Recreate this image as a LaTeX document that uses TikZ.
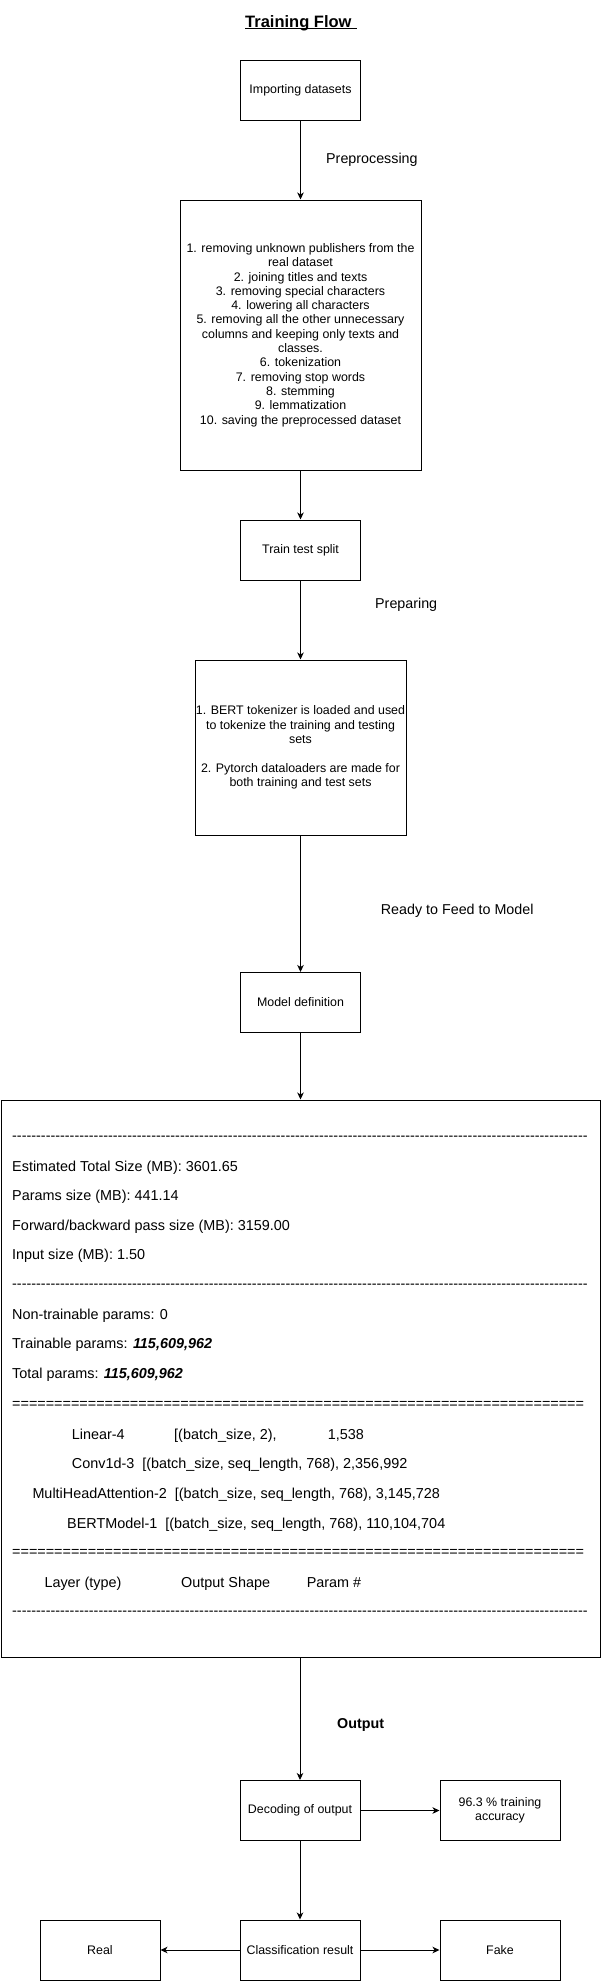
\documentclass[tikz,border=0pt]{standalone}
\usepackage{fontspec}
\setmainfont{Liberation Sans}
\usetikzlibrary{arrows.meta}
\newcommand\dashrow[1]{\foreach \k in {1,...,#1}{\hbox{-}}}
\newcommand\eqrow[1]{\foreach \k in {1,...,#1}{\hbox{=}}}
\begin{document}
\begin{tikzpicture}[x=1pt,y=-1pt,
  box/.style={draw,line width=1pt,minimum width=120pt,minimum height=60pt,inner sep=0pt,align=center,font=\fontsize{12.4}{14.3}\selectfont},
  lbl/.style={anchor=west,inner sep=0pt,text height=10.5pt,text depth=3pt,font=\fontsize{14.3}{17}\selectfont},
  row/.style={anchor=west,inner sep=0pt,text height=10.5pt,text depth=3pt,font=\fontsize{14.4}{17}\selectfont},
  arr/.style={-{Stealth[length=7pt,width=6.5pt,inset=2pt]},line width=1pt}]
\useasboundingbox (0,0) rectangle (601,1981);

% title
\node[anchor=base west,inner sep=0pt,font=\fontsize{16.5}{20}\selectfont\bfseries] (title) at (245,27) {Training Flow};
\draw[line width=1.2pt] ([yshift=-1.8pt]title.base west) -- ++(112,0);

% boxes
\node[box] (imp) at (300.5,90) {Importing datasets};
\node[box,minimum width=241pt,minimum height=270pt] (pre) at (300.5,335) {1. removing unknown publishers from the\\real dataset\\2. joining titles and texts\\3. removing special characters\\4. lowering all characters\\5. removing all the other unnecessary\\columns and keeping only texts and\\classes.\\6. tokenization\\7. removing stop words\\8. stemming\\9. lemmatization\\10. saving the preprocessed dataset};
\node[box] (tts) at (300.5,550) {Train test split};
\node[box,minimum width=211pt,minimum height=175pt] (prep) at (300.5,747.5) {1. BERT tokenizer is loaded and used\\to tokenize the training and testing\\sets\\[14.3pt]2. Pytorch dataloaders are made for\\both training and test sets};
\node[box] (md) at (300.5,1002.5) {Model definition};
\node[draw,line width=1pt,minimum width=599pt,minimum height=557pt,inner sep=0pt] (big) at (300.5,1378.5) {};
\node[box] (dec) at (300,1810.5) {Decoding of output};
\node[box] (acc) at (500,1810.5) {96.3 \% training\\accuracy};
\node[box] (cls) at (300,1950) {Classification result};
\node[box] (real) at (100,1950) {Real};
\node[box] (fake) at (500,1950) {Fake};

% labels
\node[lbl] (lpre) at (326,160) {Preprocessing};
\node[lbl] (lprep) at (375,605) {Preparing};
\node[lbl] (lready) at (380.7,911) {Ready to Feed to Model};
\node[lbl,font=\fontsize{14.3}{17}\selectfont\bfseries] (lout) at (337,1725) {Output};

% summary rows
\node[row] (r1) at (12,1137) {\dashrow{120}};
\node[row] (r2) at (12,1167.5) {Estimated Total Size (MB): 3601.65};
\node[row] (r3) at (12,1196.5) {Params size (MB): 441.14};
\node[row] (r4) at (12,1226.5) {Forward/backward pass size (MB): 3159.00};
\node[row] (r5) at (12,1255.5) {Input size (MB): 1.50};
\node[row] (r6) at (12,1285) {\dashrow{120}};
\node[row] (r7) at (12,1315.5) {Non-trainable params: 0};
\node[row] (r8) at (12,1344.5) {Trainable params: \textbf{\textit{115,609,962}}};
\node[row] (r9) at (12,1374.5) {Total params: \textbf{\textit{115,609,962}}};
\node[row] (r10) at (12,1404.5) {\eqrow{68}};
\node[row] (r11a) at (71.7,1435.5) {Linear-4};
\node[row] (r11b) at (174,1435.5) {[(batch\_size, 2),};
\node[row] (r11c) at (327.7,1435.5) {1,538};
\node[row] (r12) at (71.7,1464.5) {Conv1d-3\ \ [(batch\_size, seq\_length, 768), 2,356,992};
\node[row] (r13) at (32.3,1494.5) {MultiHeadAttention-2\ \ [(batch\_size, seq\_length, 768), 3,145,728};
\node[row] (r14) at (67,1524.5) {BERTModel-1\ \ [(batch\_size, seq\_length, 768), 110,104,704};
\node[row] (r15) at (12,1552.5) {\eqrow{68}};
\node[row] (r16a) at (44.3,1583.5) {Layer (type)};
\node[row] (r16b) at (181,1583.5) {Output Shape};
\node[row] (r16c) at (306.6,1583.5) {Param \#};
\node[row] (r17) at (12,1612) {\dashrow{120}};

% connectors
\draw[arr] (imp) -- (pre);
\draw[arr] (pre) -- (tts);
\draw[arr] (tts) -- (prep);
\draw[arr] (prep) -- (md);
\draw[arr] (md) -- (md |- big.north);
\draw[arr] (dec |- big.south) -- (dec);
\draw[arr] (dec) -- (acc);
\draw[arr] (dec) -- (cls);
\draw[arr] (cls) -- (real);
\draw[arr] (cls) -- (fake);
\end{tikzpicture}
\end{document}
